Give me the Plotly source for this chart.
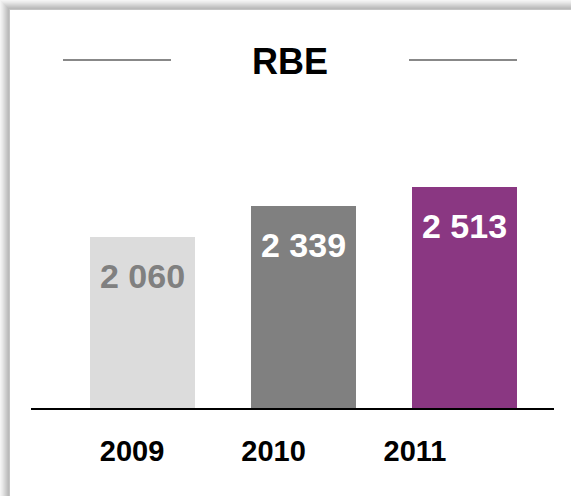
import plotly.graph_objects as go

years = ["2009", "2010", "2011"]
values = [2060, 2339, 2513]
value_labels = ["2 060", "2 339", "2 513"]
bar_colors = ["#DCDCDC", "#808080", "#8A3782"]
text_colors = ["#808080", "#FFFFFF", "#FFFFFF"]
title_text = "RBE"

W, H = 571, 496
L, R, T, B = 31, 554, 100, 408  # plot area in pixels


def px(X):
    return (X - L) / (R - L)


def py(Y):
    return (B - Y) / (B - T)


FONT = "Arial, 'Liberation Sans', sans-serif"

fig = go.Figure()
fig.add_trace(go.Bar(
    x=years, y=values, marker=dict(color=bar_colors, line=dict(width=0)),
    width=0.652, hoverinfo="skip", showlegend=False,
))
# invisible trace to carry the year labels axis
fig.add_trace(go.Scatter(
    x=[0, 1, 2], y=values, xaxis="x2", mode="markers",
    marker=dict(opacity=0), hoverinfo="skip", showlegend=False,
))

for i, (v, lab, tc) in enumerate(zip(values, value_labels, text_colors)):
    fig.add_annotation(
        x=i, y=v, xref="x", yref="y", text=f"<b>{lab}</b>", showarrow=False,
        yanchor="middle", yshift=-39,
        font=dict(family=FONT, size=34, color=tc),
    )

shapes = []
# drop shadow on top and left edges
shade = ["#f4f4f4", "#eeeeee", "#e8e8e8", "#e0e0e0", "#d8d8d8",
         "#d0d0d0", "#c8c8c8", "#c0c0c0", "#bababa", "#c4c4c4"]
for i, c in enumerate(shade):
    shapes.append(dict(type="rect", xref="paper", yref="paper",
                       x0=px(i), x1=px(W), y0=py(i), y1=py(i + 1),
                       fillcolor=c, line=dict(width=0), layer="above"))
    shapes.append(dict(type="rect", xref="paper", yref="paper",
                       x0=px(i), x1=px(i + 1), y0=py(H), y1=py(i),
                       fillcolor=c, line=dict(width=0), layer="above"))
# decorative title rules
for x0, x1 in [(63, 171), (409, 517)]:
    shapes.append(dict(type="line", xref="paper", yref="paper",
                       x0=px(x0), x1=px(x1), y0=py(60), y1=py(60),
                       line=dict(color="#888888", width=2)))

fig.update_layout(
    width=W, height=H,
    margin=dict(l=L, r=W - R, t=T, b=H - B, pad=0),
    paper_bgcolor="white", plot_bgcolor="white",
    showlegend=False,
    title=dict(text=f"<b>{title_text}</b>", x=290 / W, xanchor="center",
               y=1 - 61 / H, yanchor="middle", yref="container",
               font=dict(family=FONT, size=36, color="#000000")),
    xaxis=dict(type="category", range=[-0.693, 2.556], showticklabels=False,
               showgrid=False, zeroline=False, showline=True,
               linecolor="#000000", linewidth=2, ticks=""),
    xaxis2=dict(overlaying="x", anchor="y", side="bottom", type="linear",
                range=[-0.714, 2.982], tickmode="array", tickvals=[0, 1, 2],
                ticktext=years, showgrid=False, zeroline=False, showline=False,
                ticks="", ticklabelstandoff=23,
                tickfont=dict(family=FONT, size=29, color="#000000", weight="bold")),
    yaxis=dict(range=[538, 3285], visible=False, showgrid=False, zeroline=False),
    shapes=shapes,
    bargap=0,
)

fig.write_html("out.html", config={"displayModeBar": False})
